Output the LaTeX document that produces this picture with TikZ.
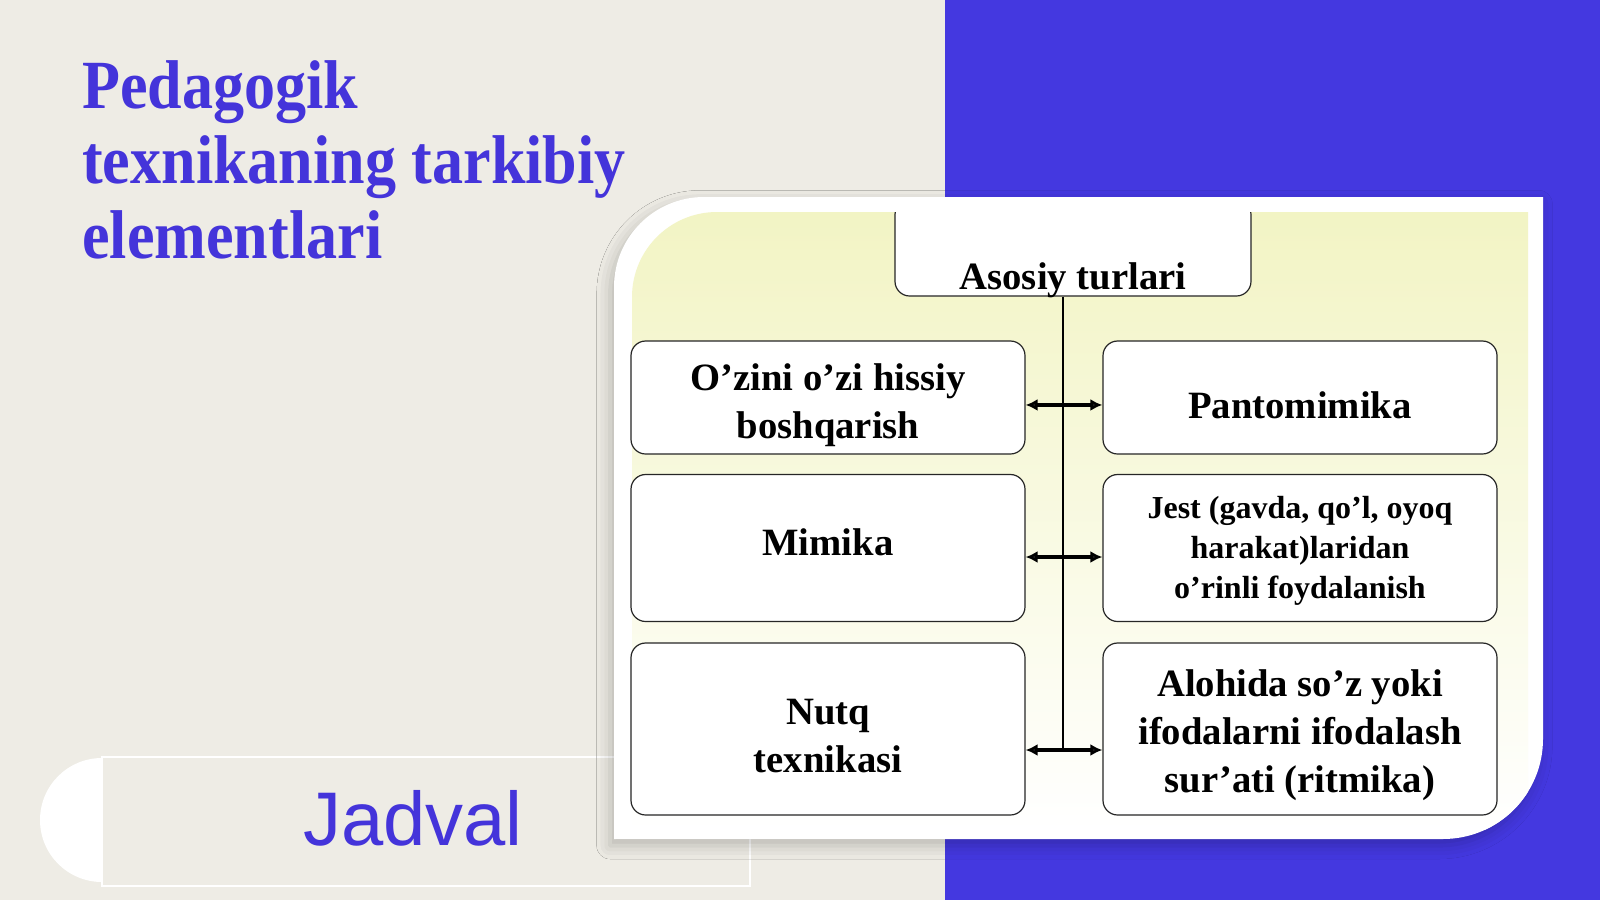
\documentclass[tikz,border=0pt]{standalone}
\usepackage{fontspec}
\setmainfont{Liberation Serif}
\newfontfamily\jadvalfont{Liberation Sans}
\usetikzlibrary{positioning, arrows.meta, shadows.blur}

\definecolor{slidebg}{RGB}{238,236,229}
\definecolor{slideblue}{RGB}{68,56,224}
\definecolor{titleblue}{RGB}{68,52,218}
\definecolor{chartyellow}{RGB}{242,244,196}

\begin{document}
\begin{tikzpicture}[
  x=0.75pt, y=-0.75pt,
  every node/.style={inner sep=0pt},
  kind/.style={draw=black!85, line width=0.9pt, rounded corners=11pt, fill=white,
    minimum width=295.5pt, align=center, text depth=6pt,
    font=\bfseries\fontsize{29pt}{36pt}\selectfont},
  small kind/.style={kind, font=\bfseries\fontsize{24pt}{30pt}\selectfont},
  row one/.style={minimum height=84.75pt},
  row two/.style={minimum height=110.25pt},
  row three/.style={minimum height=129pt},
  twoway/.style={{Latex[length=9pt,width=9pt]}-{Latex[length=9pt,width=9pt]}, line width=2.6pt},
  trunk/.style={line width=1.1pt}
]
\useasboundingbox (0,0) rectangle (1600,900);

% slide background
\fill[slidebg] (0,0) rectangle (1600,900);
\fill[slideblue] (945,0) rectangle (1600,900);

% title
\node[anchor=base west, align=left, text=titleblue, xscale=0.9, transform shape,
  font=\bfseries\fontsize{51.75pt}{55.9pt}\selectfont] (title) at (82,258)
  {Pedagogik\\texnikaning tarkibiy\\elementlari};

% Jadval label
\fill[white] (102,820) circle[radius=62];
\draw[white, line width=1.5pt, fill=slidebg] (102,757) rectangle (750,886);
\node[anchor=base, text=titleblue, font=\jadvalfont\fontsize{57pt}{68pt}\selectfont]
  (jadval) at (413,845) {Jadval};

% white panel
\fill[white, blur shadow={shadow xshift=-3pt, shadow yshift=-5pt,
    shadow blur radius=10pt, shadow opacity=22}]
  (614,839) -- (614,287) arc[start angle=180, end angle=270, radius=90]
  -- (1543,197) -- (1543,739) arc[start angle=0, end angle=90, radius=100] -- cycle;

\begin{scope}
\clip (614,839) -- (614,287) arc[start angle=180, end angle=270, radius=90]
  -- (1543,197) -- (1543,739) arc[start angle=0, end angle=90, radius=100] -- cycle;
\shade[top color=chartyellow, middle color=chartyellow!85!white, bottom color=white]
  (632,297) arc[start angle=180, end angle=270, radius=85]
  -- (1528,212) -- (1528,830) -- (632,830) -- cycle;
\end{scope}

% top box, cut off by the chart edge
\begin{scope}
\clip (632,212) rectangle (1528,839);
\node[kind, minimum width=267pt, text height=66.75pt, text depth=5.25pt, anchor=base]
  (asosiy) at (1073,289) {Asosiy turlari};
\end{scope}

\node[kind, row one, text height=66.75pt] (ozini) at (828,397.5) {O’zini o’zi hissiy\\boshqarish};
\node[kind, row one, text height=36.75pt] (panto) at (1300,397.5) {Pantomimika};
\node[kind, row two, text height=16.5pt] (mimika) at (828,548) {Mimika};
\node[small kind, row two, text height=81pt] (jest) at (1300,548)
  {Jest (gavda, qo’l, oyoq\\harakat)laridan\\o’rinli foydalanish};
\node[kind, row three, text height=70.5pt] (nutq) at (828,729) {Nutq\\texnikasi};
\node[kind, row three, text height=100.5pt] (alohida) at (1300,729)
  {Alohida so’z yoki\\ifodalarni ifodalash\\sur’ati (ritmika)};

\coordinate (trunkend) at (1063,750);
\draw[trunk] (asosiy.south -| trunkend) -- (trunkend);

\draw[twoway] ([yshift=-5.6pt]ozini.east) -- ([yshift=-5.6pt]panto.west);
\draw[twoway] ([yshift=-6.75pt]mimika.east) -- ([yshift=-6.75pt]jest.west);
\draw[twoway] ([yshift=-15.75pt]nutq.east) -- ([yshift=-15.75pt]alohida.west);

\end{tikzpicture}
\end{document}
